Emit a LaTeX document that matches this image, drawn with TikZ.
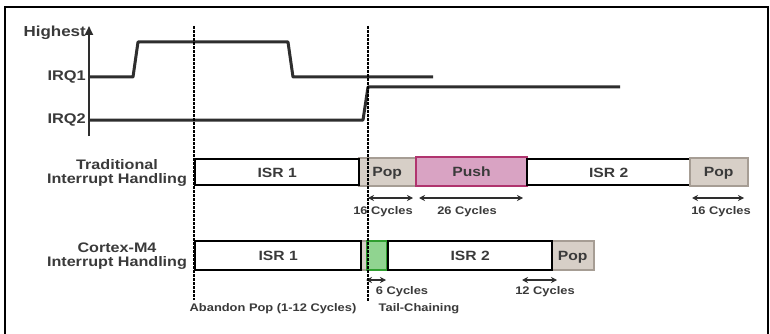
\documentclass[tikz,border=0pt]{standalone}
\usepackage{fontspec}
\setmainfont{Liberation Sans}[FakeStretch=1.17]
\usetikzlibrary{arrows.meta}
\definecolor{txt}{HTML}{3A3A3A}
\definecolor{sig}{HTML}{2E2E2E}
\definecolor{popfill}{HTML}{D7CFC7}
\definecolor{popdraw}{HTML}{A69D94}
\definecolor{pushfill}{HTML}{D9A3C3}
\definecolor{pushdraw}{HTML}{B0346E}
\definecolor{tcfill}{HTML}{90D490}
\definecolor{tcdraw}{HTML}{2F9E2F}
\newcommand{\fs}[1]{\bfseries\fontsize{#1}{#1}\selectfont}
\begin{document}
\begin{tikzpicture}[x=1pt,y=-1pt,
  lbl/.style={font=\fs{13.8}, text=txt, align=center, inner sep=0},
  irq/.style={font=\fs{14}, text=txt, inner sep=0, anchor=east},
  cyc/.style={font=\fs{11}, text=txt, inner sep=0},
  box/.style={draw, inner sep=0, anchor=north west, font=\fs{13.4}, text=txt, text height=9.6pt, text depth=0pt},
  isrbox/.style={box, draw=black, line width=2.4pt, fill=white},
  popbox/.style={box, draw=popdraw, line width=1.5pt, fill=popfill},
  pushbox/.style={box, draw=pushdraw, line width=2pt, fill=pushfill},
  tcbox/.style={box, draw=tcdraw, line width=1.8pt, fill=tcfill},
  signal/.style={draw=sig, line width=3pt, line join=round},
  marker/.style={draw=black, line width=2.6pt, dash pattern=on 3pt off 1pt},
  span/.style={draw=sig, line width=2pt, {Stealth[length=6pt,width=6pt]}-{Stealth[length=6pt,width=6pt]}}
]
\useasboundingbox (0,0) rectangle (770,334);
\fill[white] (0,0) rectangle (770,334);
% frame
\coordinate (fa) at (5,334); \coordinate (fb) at (5,7);
\coordinate (fc) at (768,7); \coordinate (fd) at (768,334);
\draw[line width=2.5pt] (fa) -- (fb) -- (fc) -- (fd);

% axis
\coordinate (ax0) at (89,136); \coordinate (ax1) at (89,26);
\draw[draw=sig, line width=2.2pt, -{Triangle[length=9pt,width=8pt]}] (ax0) -- (ax1);
\node[irq] (hi) at (86,33) {\fs{14.5}Highest};
\node[irq] (q1) at (86,77) {IRQ1};
\node[irq] (q2) at (86,120) {IRQ2};

% signals
\coordinate (s1a) at (89,77); \coordinate (s1b) at (133,77);
\coordinate (s1c) at (138,42); \coordinate (s1d) at (288,42);
\coordinate (s1e) at (293,77); \coordinate (s1f) at (433,77);
\draw[signal] (s1a) -- (s1b) -- (s1c) -- (s1d) -- (s1e) -- (s1f);
\coordinate (s2a) at (89,120); \coordinate (s2b) at (363,120);
\coordinate (s2c) at (368,87); \coordinate (s2d) at (620,87);
\draw[signal] (s2a) -- (s2b) -- (s2c) -- (s2d);

% row labels
\node[lbl] (trad) at (117,173) {Traditional\\Interrupt Handling};
\node[lbl] (cm4) at (117,256) {Cortex-M4\\Interrupt Handling};

% traditional row
\node[popbox, minimum width=57pt, minimum height=28pt] (pop1) at (358,157) {Pop};
\node[isrbox, minimum width=164pt, minimum height=26pt] (isr1t) at (194,158) {ISR 1};
\node[pushbox, minimum width=111pt, minimum height=29pt] (push) at (415,156) {Push};
\node[isrbox, minimum width=163pt, minimum height=26pt] (isr2t) at (526,158) {ISR 2};
\node[popbox, minimum width=58pt, minimum height=28pt] (pop2) at (689,157) {Pop};

% cortex row
\node[popbox, minimum width=7pt, minimum height=29pt] (abp) at (359,240) {};
\node[isrbox, minimum width=166pt, minimum height=29pt] (isr1c) at (194,240) {ISR 1};
\node[tcbox, minimum width=20pt, minimum height=29pt] (tc) at (366,240) {};
\node[popbox, minimum width=42pt, minimum height=29pt] (pop3) at (551,240) {Pop};
\node[isrbox, minimum width=164pt, minimum height=29pt] (isr2c) at (387,240) {ISR 2};

% spans
\coordinate (a1) at (368,198); \coordinate (a2) at (413,198);
\draw[span] (a1) -- (a2);
\node[cyc] (l1) at (383,212) {16 Cycles};
\coordinate (b1) at (419,198); \coordinate (b2) at (523,198);
\draw[span] (b1) -- (b2);
\node[cyc] (l2) at (467,212) {26 Cycles};
\coordinate (c1) at (692,198); \coordinate (c2) at (744,198);
\draw[span] (c1) -- (c2);
\node[cyc] (l3) at (721,212) {16 Cycles};
\coordinate (d1) at (366,280); \coordinate (d2) at (386,280);
\draw[span] (d1) -- (d2);
\node[cyc] (l4) at (402,292) {6 Cycles};
\coordinate (e1) at (522,280); \coordinate (e2) at (557,280);
\draw[span] (e1) -- (e2);
\node[cyc] (l5) at (545,292) {12 Cycles};
\node[cyc] (l6) at (419,309) {Tail-Chaining};
\node[cyc] (l7) at (273,309) {Abandon Pop (1-12 Cycles)};

% event markers
\coordinate (m1a) at (194,26); \coordinate (m1b) at (194,300);
\coordinate (m2a) at (368,26); \coordinate (m2b) at (368,302);
\draw[marker] (m1a) -- (m1b);
\draw[marker] (m2a) -- (m2b);
\end{tikzpicture}
\end{document}
